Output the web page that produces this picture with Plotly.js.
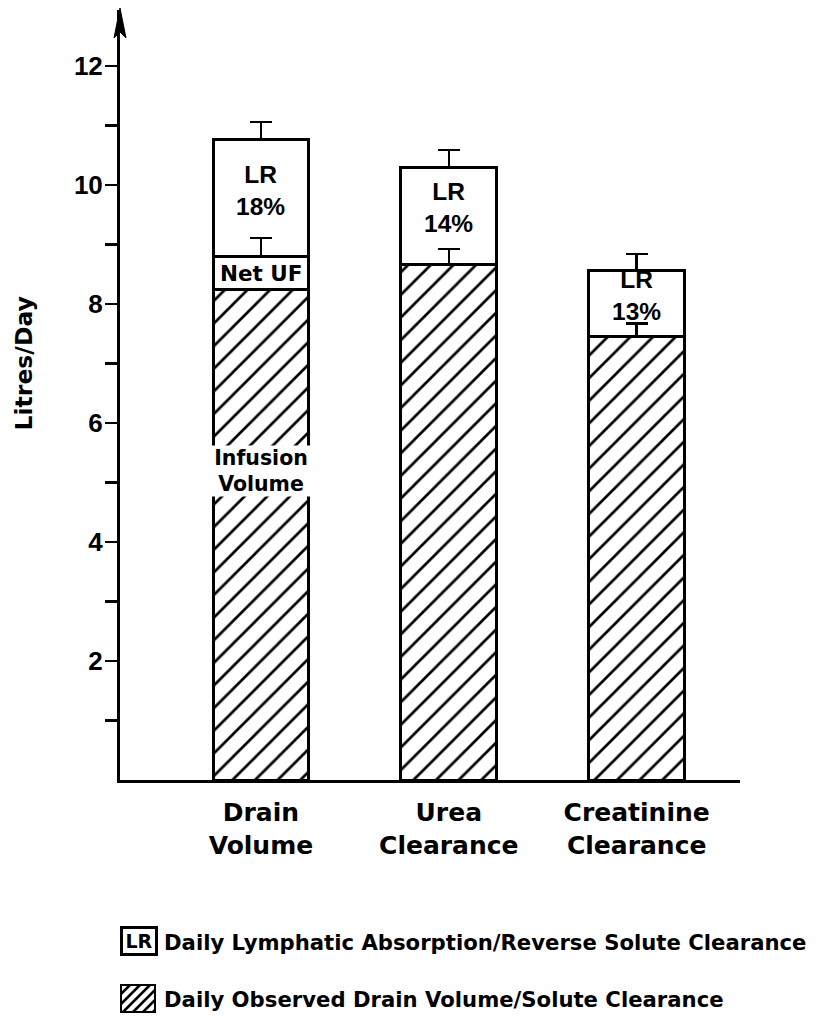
<!DOCTYPE html>
<html><head><meta charset="utf-8">
<script src="https://cdn.plot.ly/plotly-3.0.1.min.js"></script>
<style>html,body{margin:0;padding:0;background:#fff}</style>
</head><body>
<div id="chart" style="width:819px;height:1017px"></div>
<script>
// ---- data ----
const categories = ['Drain<br>Volume', 'Urea<br>Clearance', 'Creatinine<br>Clearance'];
const observedValues = [8.24, 8.67, 7.46];
const observedErrors = [null, 0.25, 0.21];
const netUFValues = [0.55, null, null];
const netUFErrors = [0.32, null, null];
const lymphaticValues = [1.98, 1.62, 1.10];
const lymphaticErrors = [0.29, 0.30, 0.28];
const lymphaticLabels = ['LR<br>18%', 'LR<br>14%', 'LR<br>13%'];
const netUFLabel = 'Net UF';
const infusionLabel = 'Infusion<br>Volume';
const infusionLabelLevel = 5.2;
const yTickValues = [2, 4, 6, 8, 10, 12];
const yTickLabels = ['2', '4', '6', '8', '10', '12'];
const yMinorTickValues = [1, 3, 5, 7, 9, 11];
const yAxisTitle = 'Litres/Day';
const legendLRText = 'Daily Lymphatic Absorption/Reverse Solute Clearance';
const legendObservedText = 'Daily Observed Drain Volume/Solute Clearance';

// ---- layout helpers (pixel -> paper) ----
const W = 819, H = 1017, ML = 120, MR = 79, MT = 10, MB = 237;
const PW = W - ML - MR, PH = H - MT - MB;
const px = x => (x - ML) / PW;
const py = y => (H - MB - y) / PH;

function err(arr) {
  return {type: 'data', symmetric: false, array: arr,
          arrayminus: arr.map(v => v == null ? null : 0),
          color: '#000', thickness: 2.5, width: 11, visible: true};
}
const outline = {color: '#000', width: 3};
const barWidth = 0.51;

const traces = [
  {type: 'bar', x: categories, y: observedValues, width: barWidth,
   marker: {color: '#fff', line: outline,
            pattern: {shape: '/', fgcolor: '#000', bgcolor: '#fff', size: 16, solidity: 0.17}},
   error_y: err(observedErrors), hoverinfo: 'skip'},
  {type: 'bar', x: categories, y: netUFValues, width: barWidth,
   marker: {color: 'rgba(0,0,0,0)', line: outline},
   error_y: err(netUFErrors), hoverinfo: 'skip'},
  {type: 'bar', x: categories, y: lymphaticValues, width: barWidth,
   marker: {color: 'rgba(0,0,0,0)', line: outline},
   error_y: err(lymphaticErrors), hoverinfo: 'skip'}
];

const boldDV = (size) => ({family: 'DejaVu Sans', size: size, color: '#000', weight: 'bold'});
const boldLS = (size) => ({family: 'Liberation Sans', size: size, color: '#000', weight: 'bold'});

const annotations = [];
annotations.push({xref: 'paper', yref: 'y', x: px(24), y: 7, text: yAxisTitle, textangle: -90,
                  showarrow: false, font: boldDV(23.5), xanchor: 'center', yanchor: 'middle'});
categories.forEach((c, i) => {
  const base = observedValues[i] + (netUFValues[i] || 0);
  annotations.push({x: c, y: base + lymphaticValues[i] / 2, yshift: 8, text: lymphaticLabels[i],
                    showarrow: false, font: boldLS(24.5)});
});
annotations.push({x: categories[0], y: observedValues[0] + netUFValues[0] / 2, text: netUFLabel,
                  showarrow: false, font: boldDV(21.5)});
annotations.push({x: categories[0], y: infusionLabelLevel, text: infusionLabel, showarrow: false,
                  font: boldDV(20.5), bgcolor: '#fff', width: 104, height: 50, borderpad: 0});
// legend
annotations.push({xref: 'paper', yref: 'paper', x: px(138.5), y: py(941), text: 'LR', showarrow: false,
                  font: boldDV(19), bordercolor: '#000', borderwidth: 3, borderpad: 1,
                  width: 30, height: 22, xanchor: 'center', yanchor: 'middle'});
annotations.push({xref: 'paper', yref: 'paper', x: px(162), y: py(942), text: legendLRText, showarrow: false,
                  font: boldDV(21.2), xanchor: 'left', yanchor: 'middle'});
annotations.push({xref: 'paper', yref: 'paper', x: px(162), y: py(999), text: legendObservedText, showarrow: false,
                  font: boldDV(21.2), xanchor: 'left', yanchor: 'middle'});

// shapes: axis arrow head and hatched legend swatch
const shapes = [];
shapes.push({type: 'path', xref: 'paper', yref: 'paper',
  path: `M${px(120)},${py(8)} L${px(114)},${py(38)} L${px(120)},${py(32)} L${px(126)},${py(38)} Z`,
  fillcolor: '#000', line: {color: '#000', width: 1}});
const bx0 = 121, bx1 = 155, by0 = 985, by1 = 1012;
shapes.push({type: 'rect', xref: 'paper', yref: 'paper', x0: px(bx0), x1: px(bx1), y0: py(by1), y1: py(by0),
  line: {color: '#000', width: 2}, fillcolor: '#fff'});
let hatch = '';
for (let c = bx0 + by0 + 9; c < bx1 + by1; c += 10) {
  const xa = Math.max(bx0, c - by1), xb = Math.min(bx1, c - by0);
  if (xb <= xa) continue;
  hatch += `M${px(xa)},${py(c - xa)} L${px(xb)},${py(c - xb)} `;
}
shapes.push({type: 'path', xref: 'paper', yref: 'paper', path: hatch, line: {color: '#000', width: 2.5}});

const layout = {
  width: W, height: H, margin: {l: ML, r: MR, t: MT, b: MB, pad: 0},
  paper_bgcolor: '#fff', plot_bgcolor: '#fff', barmode: 'stack', showlegend: false, hovermode: false,
  xaxis: {type: 'category', range: [-0.75, 2.55], showline: true, linecolor: '#000', linewidth: 3,
          ticks: '', showgrid: false, zeroline: false, tickfont: boldDV(25), ticklabelstandoff: 8,
          fixedrange: true},
  yaxis: {range: [0, 12.94], showline: true, linecolor: '#000', linewidth: 3, ticks: 'outside',
          ticklen: 12, tickwidth: 2.5, tickcolor: '#000', tickmode: 'array', tickvals: yTickValues,
          ticktext: yTickLabels, tickfont: boldLS(26), ticklabelstandoff: -3, showgrid: false,
          zeroline: false, fixedrange: true,
          minor: {tickmode: 'array', tickvals: yMinorTickValues, ticks: 'outside', ticklen: 12,
                  tickwidth: 2.5, tickcolor: '#000', showgrid: false}},
  annotations: annotations,
  shapes: shapes
};

Plotly.newPlot('chart', traces, layout, {displayModeBar: false, staticPlot: true});
</script>
</body></html>
